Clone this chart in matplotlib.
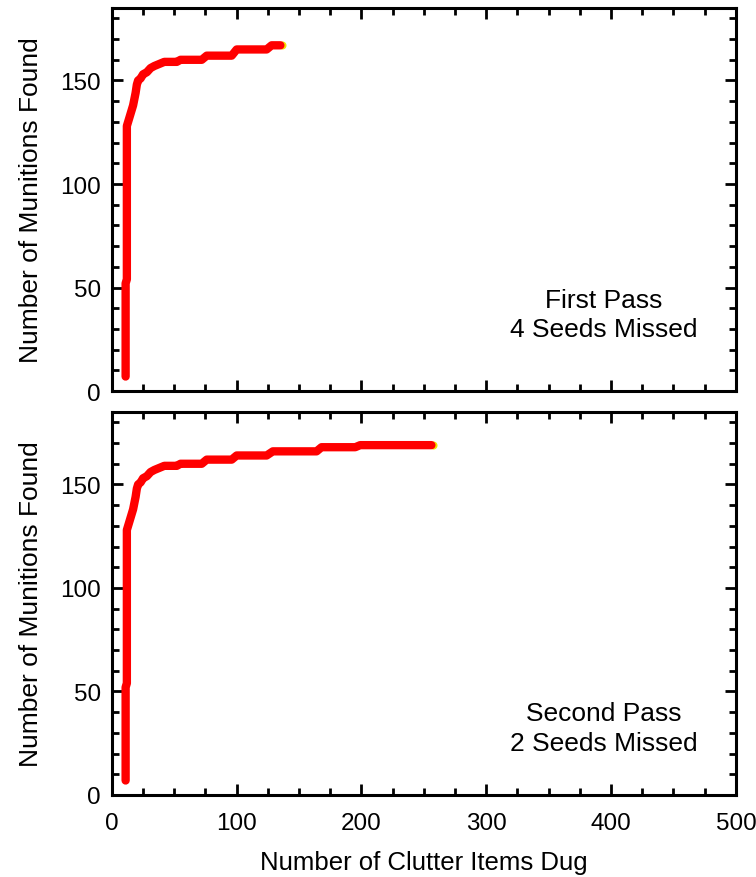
import matplotlib
matplotlib.use("Agg")
import matplotlib.pyplot as plt
from matplotlib.ticker import MultipleLocator
from matplotlib.transforms import offset_copy

plt.rcParams['font.family'] = ['Liberation Sans', 'DejaVu Sans']

# Cumulative clutter dug vs munitions found, first pass
first_clutter = [11, 11, 12, 12, 13, 14, 15, 16, 17, 18, 19, 20, 21, 23, 25, 28, 31,
                 34, 38, 42, 52, 55, 72, 76, 96, 100, 124, 128, 135]
first_found = [7, 52, 54, 128, 130, 132, 134, 136, 138, 141, 144, 148, 150, 151, 153,
               154, 156, 157, 158, 159, 159, 160, 160, 162, 162, 165, 165, 167, 167]

# Second pass
second_clutter = [11, 11, 12, 12, 13, 14, 15, 16, 17, 18, 19, 20, 21, 23, 25, 28, 31,
                  34, 38, 42, 52, 55, 72, 76, 96, 100, 124, 129, 164, 168, 195, 199, 256]
second_found = [7, 52, 54, 128, 130, 132, 134, 136, 138, 141, 144, 148, 150, 151, 153,
                154, 156, 157, 158, 159, 159, 160, 160, 162, 162, 164, 164, 166, 166,
                168, 168, 169, 169]

panel_notes = ["First Pass\n4 Seeds Missed", "Second Pass\n2 Seeds Missed"]
x_ticks = [0, 100, 200, 300, 400, 500]
y_ticks = [0, 50, 100, 150]

fig = plt.figure(figsize=(7.56, 8.78), dpi=100)
ax_top = fig.add_axes([0.148, 0.5535, 0.8254, 0.4362])
ax_bot = fig.add_axes([0.148, 0.0934, 0.8254, 0.4362])

series = [(first_clutter, first_found), (second_clutter, second_found)]
for ax, (xs, ys), note, note_y in zip([ax_top, ax_bot], series, panel_notes, [37, 32.5]):
    # yellow end marker peeking out behind the last point
    tr = offset_copy(ax.transData, fig=fig, x=1.5, y=0, units='dots')
    ax.plot(xs[-1:], ys[-1:], marker='o', ms=5.8, color='#f5e000', mec='none',
            transform=tr, zorder=2)
    ax.plot(xs, ys, color='#ff0000', lw=6.0, solid_capstyle='round',
            solid_joinstyle='round', zorder=3)
    ax.set_xlim(0, 500)
    ax.set_ylim(0, 185)
    ax.xaxis.set_major_locator(MultipleLocator(100))
    ax.xaxis.set_minor_locator(MultipleLocator(25))
    ax.set_yticks(y_ticks)
    ax.yaxis.set_minor_locator(MultipleLocator(10))
    ax.tick_params(which='both', direction='in', top=True, right=True,
                   width=2.0, labelsize=17.5, pad=8, colors='black')
    ax.tick_params(which='major', length=8)
    ax.tick_params(which='minor', length=5)
    for sp in ax.spines.values():
        sp.set_linewidth(2.2)
    ax.set_ylabel("Number of Munitions Found", fontsize=19, labelpad=12)
    ax.text(394, note_y, note, ha='center', va='center', fontsize=19,
            linespacing=1.3)

ax_top.tick_params(labelbottom=False)
ax_bot.set_xticks(x_ticks)
ax_bot.tick_params(axis='x', pad=12)
ax_bot.set_xlabel("Number of Clutter Items Dug", fontsize=18.5, labelpad=12)

fig.savefig("out.png", dpi=100)
